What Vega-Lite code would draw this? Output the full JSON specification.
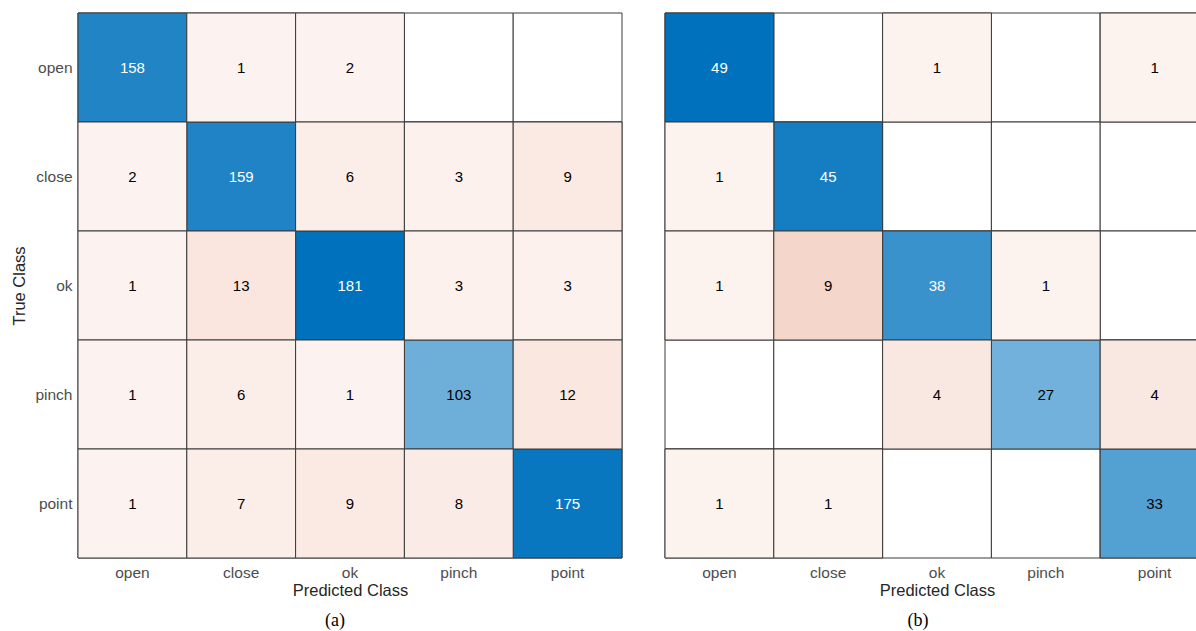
{
  "$schema": "https://vega.github.io/schema/vega-lite/v6.json",
  "padding": {"left": 11, "top": 12, "right": 0, "bottom": 0},
  "spacing": 41,
  "config": {
    "view": {"stroke": null},
    "font": "Liberation Sans",
    "axis": {
      "domain": false,
      "ticks": false,
      "grid": false,
      "labelFont": "Liberation Sans",
      "labelFontSize": 15.5,
      "labelColor": "#4d4d4d",
      "titleFont": "Liberation Sans",
      "titleFontSize": 16.5,
      "titleFontWeight": "normal",
      "titleColor": "#262626"
    },
    "title": {
      "font": "Liberation Serif",
      "fontSize": 18,
      "fontWeight": "normal",
      "color": "#000000",
      "orient": "bottom",
      "anchor": "middle",
      "offset": 13
    }
  },
  "hconcat": [
    {
      "width": 544,
      "height": 545,
      "title": {"text": "(a)", "dx": -15},
      "data": {
        "values": [
          {"actual": "open", "predicted": "open", "n": 158},
          {"actual": "open", "predicted": "close", "n": 1},
          {"actual": "open", "predicted": "ok", "n": 2},
          {"actual": "open", "predicted": "pinch", "n": 0},
          {"actual": "open", "predicted": "point", "n": 0},
          {"actual": "close", "predicted": "open", "n": 2},
          {"actual": "close", "predicted": "close", "n": 159},
          {"actual": "close", "predicted": "ok", "n": 6},
          {"actual": "close", "predicted": "pinch", "n": 3},
          {"actual": "close", "predicted": "point", "n": 9},
          {"actual": "ok", "predicted": "open", "n": 1},
          {"actual": "ok", "predicted": "close", "n": 13},
          {"actual": "ok", "predicted": "ok", "n": 181},
          {"actual": "ok", "predicted": "pinch", "n": 3},
          {"actual": "ok", "predicted": "point", "n": 3},
          {"actual": "pinch", "predicted": "open", "n": 1},
          {"actual": "pinch", "predicted": "close", "n": 6},
          {"actual": "pinch", "predicted": "ok", "n": 1},
          {"actual": "pinch", "predicted": "pinch", "n": 103},
          {"actual": "pinch", "predicted": "point", "n": 12},
          {"actual": "point", "predicted": "open", "n": 1},
          {"actual": "point", "predicted": "close", "n": 7},
          {"actual": "point", "predicted": "ok", "n": 9},
          {"actual": "point", "predicted": "pinch", "n": 8},
          {"actual": "point", "predicted": "point", "n": 175}
        ]
      },
      "encoding": {
        "x": {
          "field": "predicted", "type": "nominal",
          "sort": ["open", "close", "ok", "pinch", "point"],
          "scale": {"paddingInner": 0, "paddingOuter": 0},
          "axis": {"orient": "bottom", "labelAngle": 0, "labelPadding": 7, "title": "Predicted Class", "titlePadding": 2}
        },
        "y": {
          "field": "actual", "type": "nominal",
          "sort": ["open", "close", "ok", "pinch", "point"],
          "scale": {"paddingInner": 0, "paddingOuter": 0},
          "axis": {"labelPadding": 6, "title": "True Class", "titlePadding": 7}
        }
      },
      "layer": [
        {"mark": {"type": "rect", "fill": "#ffffff", "stroke": "#3a3a3a", "strokeWidth": 1}},
        {
          "transform": [{"filter": "datum.actual === datum.predicted"}],
          "mark": {"type": "rect", "stroke": "#3a3a3a", "strokeWidth": 1},
          "encoding": {
            "color": {"field": "n", "type": "quantitative", "legend": null,
              "scale": {"domain": [0, 181], "range": ["#ffffff", "#0072bd"], "interpolate": "rgb"}}
          }
        },
        {
          "transform": [{"filter": "datum.actual !== datum.predicted && datum.n > 0"}],
          "mark": {"type": "rect", "stroke": "#3a3a3a", "strokeWidth": 1},
          "encoding": {
            "color": {"field": "n", "type": "quantitative", "legend": null,
              "scale": {"domain": [1, 13], "range": ["#fcf3f0", "#fae6de"], "interpolate": "rgb"}}
          }
        },
        {
          "transform": [{"filter": "datum.n > 0"}],
          "mark": {"type": "text", "font": "Liberation Sans", "fontSize": 15},
          "encoding": {
            "text": {"field": "n", "type": "quantitative"},
            "color": {"condition": {"test": "datum.n > 130", "value": "#ffffff"}, "value": "#000000"}
          }
        }
      ],
      "resolve": {"scale": {"color": "independent"}}
    },
    {
      "width": 544,
      "height": 545,
      "title": {"text": "(b)", "dx": -19},
      "data": {
        "values": [
          {"actual": "open", "predicted": "open", "n": 49},
          {"actual": "open", "predicted": "close", "n": 0},
          {"actual": "open", "predicted": "ok", "n": 1},
          {"actual": "open", "predicted": "pinch", "n": 0},
          {"actual": "open", "predicted": "point", "n": 1},
          {"actual": "close", "predicted": "open", "n": 1},
          {"actual": "close", "predicted": "close", "n": 45},
          {"actual": "close", "predicted": "ok", "n": 0},
          {"actual": "close", "predicted": "pinch", "n": 0},
          {"actual": "close", "predicted": "point", "n": 0},
          {"actual": "ok", "predicted": "open", "n": 1},
          {"actual": "ok", "predicted": "close", "n": 9},
          {"actual": "ok", "predicted": "ok", "n": 38},
          {"actual": "ok", "predicted": "pinch", "n": 1},
          {"actual": "ok", "predicted": "point", "n": 0},
          {"actual": "pinch", "predicted": "open", "n": 0},
          {"actual": "pinch", "predicted": "close", "n": 0},
          {"actual": "pinch", "predicted": "ok", "n": 4},
          {"actual": "pinch", "predicted": "pinch", "n": 27},
          {"actual": "pinch", "predicted": "point", "n": 4},
          {"actual": "point", "predicted": "open", "n": 1},
          {"actual": "point", "predicted": "close", "n": 1},
          {"actual": "point", "predicted": "ok", "n": 0},
          {"actual": "point", "predicted": "pinch", "n": 0},
          {"actual": "point", "predicted": "point", "n": 33}
        ]
      },
      "encoding": {
        "x": {
          "field": "predicted", "type": "nominal",
          "sort": ["open", "close", "ok", "pinch", "point"],
          "scale": {"paddingInner": 0, "paddingOuter": 0},
          "axis": {"orient": "bottom", "labelAngle": 0, "labelPadding": 7, "title": "Predicted Class", "titlePadding": 2}
        },
        "y": {
          "field": "actual", "type": "nominal",
          "sort": ["open", "close", "ok", "pinch", "point"],
          "scale": {"paddingInner": 0, "paddingOuter": 0},
          "axis": null
        }
      },
      "layer": [
        {"mark": {"type": "rect", "fill": "#ffffff", "stroke": "#3a3a3a", "strokeWidth": 1}},
        {
          "transform": [{"filter": "datum.actual === datum.predicted"}],
          "mark": {"type": "rect", "stroke": "#3a3a3a", "strokeWidth": 1},
          "encoding": {
            "color": {"field": "n", "type": "quantitative", "legend": null,
              "scale": {"domain": [0, 49], "range": ["#ffffff", "#0072bd"], "interpolate": "rgb"}}
          }
        },
        {
          "transform": [{"filter": "datum.actual !== datum.predicted && datum.n > 0"}],
          "mark": {"type": "rect", "stroke": "#3a3a3a", "strokeWidth": 1},
          "encoding": {
            "color": {"field": "n", "type": "quantitative", "legend": null,
              "scale": {"domain": [1, 9], "range": ["#fcf2ee", "#f5d6ca"], "interpolate": "rgb"}}
          }
        },
        {
          "transform": [{"filter": "datum.n > 0"}],
          "mark": {"type": "text", "font": "Liberation Sans", "fontSize": 15},
          "encoding": {
            "text": {"field": "n", "type": "quantitative"},
            "color": {"condition": {"test": "datum.n > 35", "value": "#ffffff"}, "value": "#000000"}
          }
        }
      ],
      "resolve": {"scale": {"color": "independent"}}
    }
  ],
  "resolve": {"scale": {"color": "independent"}}
}
